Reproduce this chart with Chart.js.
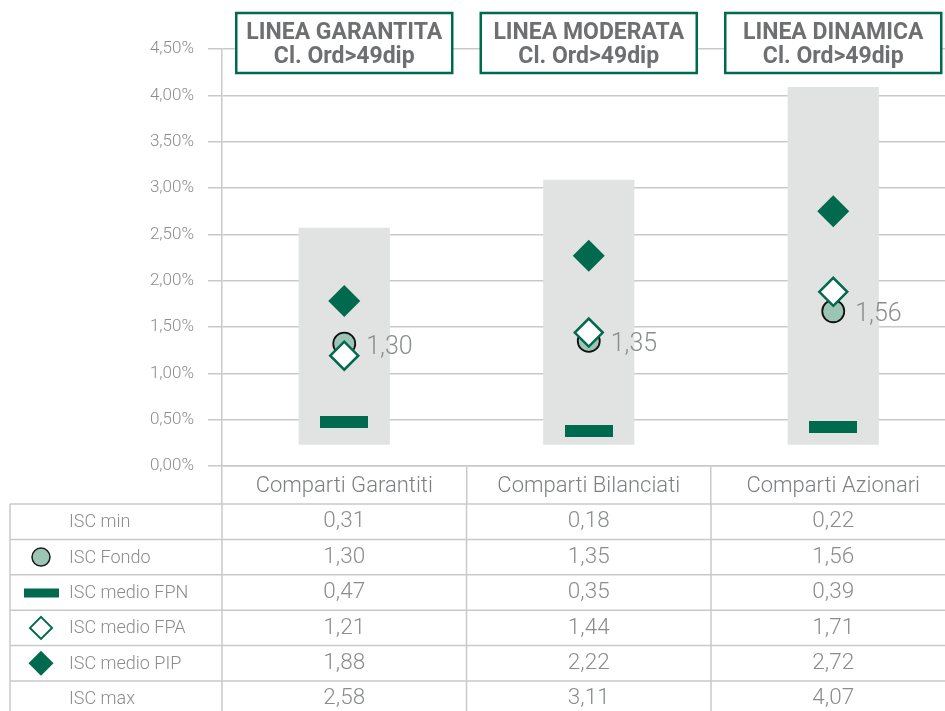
<!DOCTYPE html>
<html>
<head>
<meta charset="utf-8">
<script src="https://cdn.jsdelivr.net/npm/chart.js@4.4.1/dist/chart.umd.min.js"></script>
<style>
    html, body { margin: 0; padding: 0; background: #fff; overflow: hidden; }
    #wrap { width: 972px; height: 711px; }
</style>
</head>
<body>
<div id="wrap"><canvas id="isc" width="972" height="711"></canvas></div>
<script>
// Categories and titles
const categories = ['Comparti Garantiti', 'Comparti Bilanciati', 'Comparti Azionari'];
const lineTitles = ['LINEA GARANTITA', 'LINEA MODERATA', 'LINEA DINAMICA'];
const lineSub = 'Cl. Ord>49dip';

// Values as drawn in the plot
const plotMin = [0.23, 0.23, 0.23];
const plotMax = [2.57, 3.09, 4.09];
const plotFondo = [1.32, 1.35, 1.67];
const plotFpn = [0.47, 0.38, 0.42];
const plotFpa = [1.19, 1.44, 1.88];
const plotPip = [1.78, 2.27, 2.75];

// Values in the table
const rowLabels = ['ISC min', 'ISC Fondo', 'ISC medio FPN', 'ISC medio FPA', 'ISC medio PIP', 'ISC max'];
const iscMin = [0.31, 0.18, 0.22];
const iscFondo = [1.30, 1.35, 1.56];
const iscFpn = [0.47, 0.35, 0.39];
const iscFpa = [1.21, 1.44, 1.71];
const iscPip = [1.88, 2.22, 2.72];
const iscMax = [2.58, 3.11, 4.07];
const tableRows = [iscMin, iscFondo, iscFpn, iscFpa, iscPip, iscMax];

const GREEN = '#006a4e';
const GREY_BAR = '#e1e3e2';
const FONDO_FILL = '#9cc5b5';
const TEXT = '#8a8c8e';
const GRID = '#c9c9c9';
const FONT = 'Roboto';

const fmt = v => v.toFixed(2).replace('.', ',');

// FPN dash marker
const dash = document.createElement('canvas');
dash.width = 48;
dash.height = 12;
const dctx = dash.getContext('2d');
dctx.fillStyle = GREEN;
dctx.fillRect(0, 0, 48, 12);

// labels next to the fund circle
const fondoLabels = {
    id: 'fondoLabels',
    afterDatasetsDraw(chart) {
        const meta = chart.getDatasetMeta(1);
        const ctx = chart.ctx;
        ctx.save();
        ctx.font = '300 25px ' + FONT;
        ctx.fillStyle = TEXT;
        ctx.textAlign = 'left';
        ctx.textBaseline = 'middle';
        meta.data.forEach((pt, i) => {
            ctx.fillText(fmt(iscFondo[i]), pt.x + 22, pt.y + 4);
        });
        ctx.restore();
    }
};

// title boxes + table under the axis
const extras = {
    id: 'extras',
    afterDraw(chart) {
        const ctx = chart.ctx;
        const x = chart.scales.x;
        const half = (x.getPixelForValue(1) - x.getPixelForValue(0)) / 2;

        // title boxes
        ctx.save();
        categories.forEach((c, i) => {
            const cx = x.getPixelForValue(i);
            ctx.fillStyle = '#fff';
            ctx.fillRect(cx - 108, 13, 216, 60);
            ctx.strokeStyle = GREEN;
            ctx.lineWidth = 2.5;
            ctx.strokeRect(cx - 108, 13, 216, 60);
            ctx.fillStyle = '#6d6f71';
            ctx.textAlign = 'center';
            ctx.textBaseline = 'middle';
            ctx.font = 'bold 23px ' + FONT;
            ctx.fillText(lineTitles[i], cx, 33);
            ctx.fillText(lineSub, cx, 57);
        });
        ctx.restore();

        // table
        const top = 504, rowH = 35.4, left = 10, right = chart.width;
        ctx.save();
        ctx.strokeStyle = GRID;
        ctx.lineWidth = 1.5;
        for (let r = 0; r <= rowLabels.length; r++) {
            const y = top + r * rowH;
            ctx.beginPath();
            ctx.moveTo(left, y);
            ctx.lineTo(right, y);
            ctx.stroke();
        }
        const cols = [left];
        categories.forEach((c, i) => cols.push(x.getPixelForValue(i) - half));
        cols.forEach(cx => {
            ctx.beginPath();
            ctx.moveTo(cx, cx === left ? top : x.bottom);
            ctx.lineTo(cx, chart.height);
            ctx.stroke();
        });

        rowLabels.forEach((lab, r) => {
            const cy = top + r * rowH + rowH / 2;
            ctx.fillStyle = TEXT;
            ctx.font = '300 18px ' + FONT;
            ctx.textAlign = 'left';
            ctx.textBaseline = 'middle';
            ctx.fillText(lab, 69, cy + 1);
            ctx.font = '300 22.5px ' + FONT;
            ctx.textAlign = 'center';
            tableRows[r].forEach((v, i) => {
                ctx.fillText(fmt(v), x.getPixelForValue(i), cy);
            });

            // legend icons
            const ix = 41;
            if (r === 1) {
                ctx.beginPath();
                ctx.arc(ix, cy, 9, 0, Math.PI * 2);
                ctx.fillStyle = FONDO_FILL;
                ctx.fill();
                ctx.lineWidth = 1.5;
                ctx.strokeStyle = '#1a1a1a';
                ctx.stroke();
            } else if (r === 2) {
                ctx.fillStyle = GREEN;
                ctx.fillRect(24, cy - 4, 35, 9);
            } else if (r === 3 || r === 4) {
                const d = r === 3 ? 11 : 12.5;
                ctx.beginPath();
                ctx.moveTo(ix, cy - d);
                ctx.lineTo(ix + d, cy);
                ctx.lineTo(ix, cy + d);
                ctx.lineTo(ix - d, cy);
                ctx.closePath();
                if (r === 3) {
                    ctx.fillStyle = '#fff';
                    ctx.fill();
                    ctx.lineWidth = 2;
                    ctx.strokeStyle = GREEN;
                    ctx.stroke();
                } else {
                    ctx.fillStyle = GREEN;
                    ctx.fill();
                }
            }
            ctx.strokeStyle = GRID;
            ctx.lineWidth = 1.5;
        });
        ctx.restore();
    }
};

const ctx = document.getElementById('isc').getContext('2d');
const iscChart = new Chart(ctx, {
    data: {
        labels: categories,
        datasets: [
            {
                type: 'bar',
                label: 'ISC min-max',
                data: plotMin.map((v, i) => [v, plotMax[i]]),
                backgroundColor: GREY_BAR,
                borderWidth: 0,
                categoryPercentage: 1,
                barPercentage: 0.373,
                order: 10
            },
            {
                type: 'line',
                label: 'ISC Fondo',
                data: plotFondo,
                showLine: false,
                pointStyle: 'circle',
                pointRadius: 11,
                pointBackgroundColor: FONDO_FILL,
                pointBorderColor: '#111',
                pointBorderWidth: 1.8,
                order: 3
            },
            {
                type: 'line',
                label: 'ISC medio FPN',
                data: plotFpn,
                showLine: false,
                pointStyle: dash,
                order: 4
            },
            {
                type: 'line',
                label: 'ISC medio FPA',
                data: plotFpa,
                showLine: false,
                pointStyle: 'rectRot',
                pointRadius: 14,
                pointBackgroundColor: '#fff',
                pointBorderColor: GREEN,
                pointBorderWidth: 2.5,
                order: 1
            },
            {
                type: 'line',
                label: 'ISC medio PIP',
                data: plotPip,
                showLine: false,
                pointStyle: 'rectRot',
                pointRadius: 16,
                pointBackgroundColor: GREEN,
                pointBorderWidth: 0,
                order: 2
            }
        ]
    },
    options: {
        responsive: false,
        animation: false,
        layout: { padding: { top: 49, right: 5, bottom: 207, left: 0 } },
        plugins: { legend: { display: false }, tooltip: { enabled: false } },
        scales: {
            x: {
                afterFit: s => { s.height = 38; },
                grid: { offset: true, drawOnChartArea: false, drawTicks: true, tickLength: 38, color: GRID, lineWidth: 1.5 },
                border: { display: true, color: GRID, width: 1.5 },
                ticks: { padding: -31, color: '#7d7f81', font: { family: FONT, size: 22, weight: 300 } }
            },
            y: {
                min: 0,
                max: 4.5,
                afterFit: s => { s.width = 222; },
                grid: { color: GRID, lineWidth: 1.5, tickLength: 14 },
                border: { display: true, color: GRID, width: 1.5 },
                ticks: {
                    stepSize: 0.5,
                    padding: 14,
                    color: TEXT,
                    font: { family: FONT, size: 17, weight: 300 },
                    callback: v => fmt(v) + '%'
                }
            }
        }
    },
    plugins: [fondoLabels, extras]
});
</script>
</body>
</html>
